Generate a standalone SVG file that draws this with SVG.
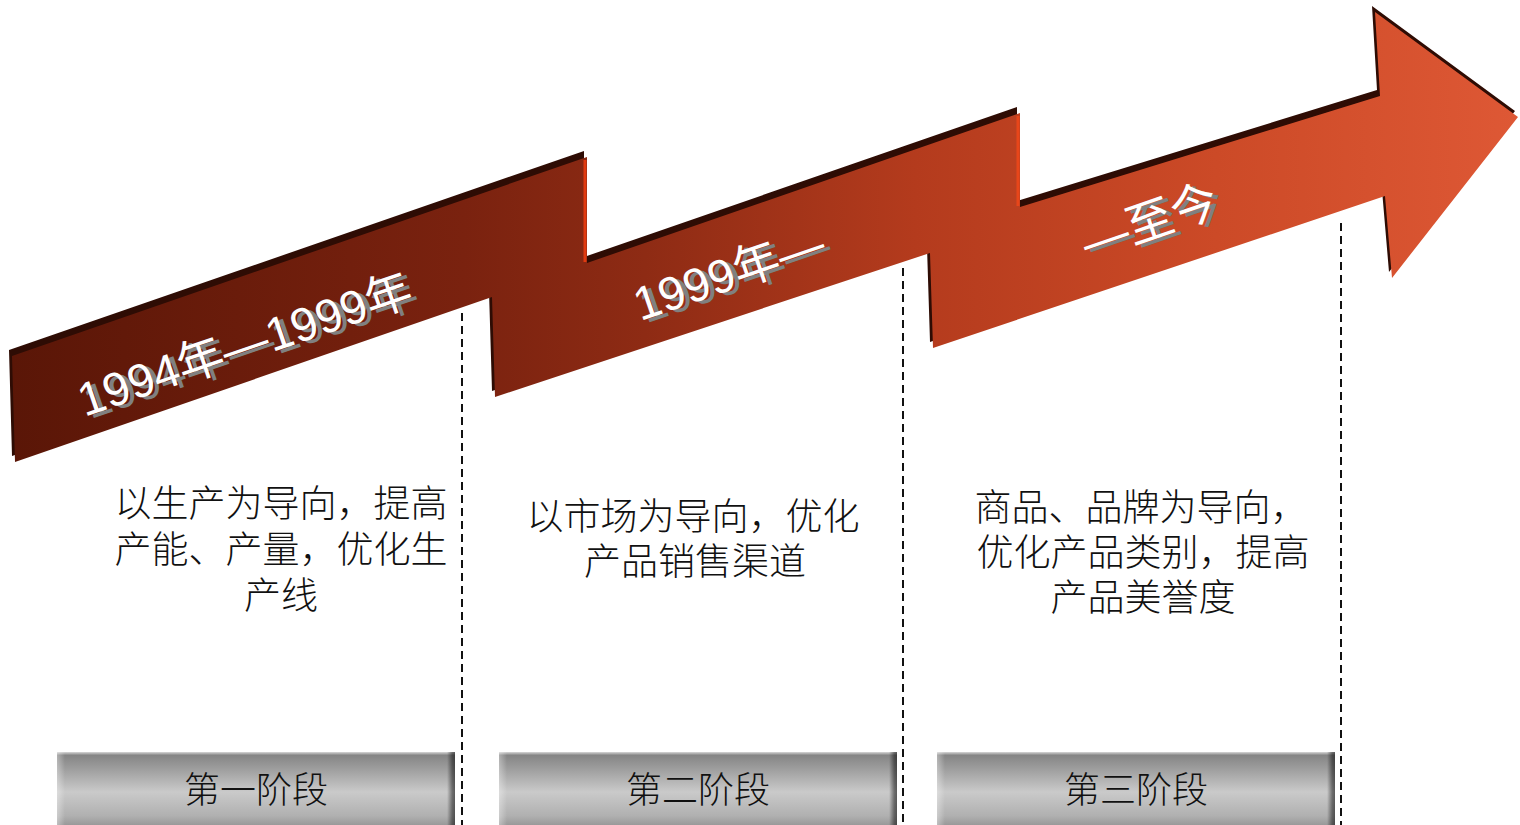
<svg xmlns="http://www.w3.org/2000/svg" width="1520" height="825" viewBox="0 0 1520 825">
  <defs>
    <linearGradient id="arrowFill" gradientUnits="userSpaceOnUse" x1="12" y1="0" x2="1518" y2="0">
      <stop offset="0" stop-color="#5a1607"/>
      <stop offset="0.3" stop-color="#7a220f"/>
      <stop offset="0.42" stop-color="#8e2b14"/>
      <stop offset="0.6" stop-color="#b43b1d"/>
      <stop offset="0.8" stop-color="#cc4a27"/>
      <stop offset="1" stop-color="#de5835"/>
    </linearGradient>
    <linearGradient id="barV" x1="0" y1="0" x2="0" y2="1">
      <stop offset="0" stop-color="#d8d8d8"/>
      <stop offset="0.04" stop-color="#858585"/>
      <stop offset="0.2" stop-color="#9c9c9c"/>
      <stop offset="0.5" stop-color="#cacaca"/>
      <stop offset="0.8" stop-color="#b0b0b0"/>
      <stop offset="1" stop-color="#888888"/>
    </linearGradient>
    <linearGradient id="barH" x1="0" y1="0" x2="1" y2="0">
      <stop offset="0" stop-color="#ffffff" stop-opacity="0.35"/>
      <stop offset="0.02" stop-color="#ffffff" stop-opacity="0"/>
      <stop offset="0.98" stop-color="#000000" stop-opacity="0"/>
      <stop offset="0.993" stop-color="#000000" stop-opacity="0.45"/>
      <stop offset="1" stop-color="#000000" stop-opacity="0.55"/>
    </linearGradient>
    <style>
      .sep { fill: none; stroke: #111111; stroke-width: 2; stroke-dasharray: 8 5; }
      .yr { font-family: "Liberation Sans", "Noto Sans CJK SC", sans-serif; font-size: 47px; text-anchor: middle; }
      .yr-shadow { fill: #808080; }
      .yr-main { fill: #ffffff; }
      .desc { font-family: "Noto Sans CJK SC", "Liberation Serif", serif; font-size: 37px; fill: #111111; text-anchor: middle; font-weight: 300; }
      .bar-rect { fill: url(#barV); }
      .bar-bevel { fill: url(#barH); }
      .bar-text { font-family: "Noto Sans CJK SC", "Liberation Serif", serif; font-size: 36px; fill: #111111; text-anchor: middle; font-weight: 300; }
    </style>
  </defs>
  <rect width="1520" height="825" fill="#ffffff"/>

  <!-- Big zigzag arrow -->
  <g id="arrow">
    <polygon fill="#2e0c04" transform="translate(-3,-6)" points="12,356 587,157 587,263 1020,113 1020,207 1380,96 1375,12 1518,117 1392,278 1385,196 933,348 930,253 495,397 492,297 15,462"/>
    <polygon fill="url(#arrowFill)" points="12,356 587,157 587,263 1020,113 1020,207 1380,96 1375,12 1518,117 1392,278 1385,196 933,348 930,253 495,397 492,297 15,462"/>
    <line x1="585" y1="160" x2="585" y2="262" stroke="#e03a10" stroke-width="3"/>
    <line x1="1018" y1="116" x2="1018" y2="206" stroke="#e8461a" stroke-width="3"/>
  </g>

  <!-- Year labels on the arrow -->
  <g id="label-1994-1999" transform="translate(250,360) rotate(-19)">
    <text class="yr yr-shadow" x="5" y="4">1994年—1999年</text>
    <text class="yr yr-main" x="0" y="0">1994年—1999年</text>
  </g>
  <g id="label-1999" transform="translate(734,289) rotate(-19)">
    <text class="yr yr-shadow" x="5" y="4">1999年—</text>
    <text class="yr yr-main" x="0" y="0">1999年—</text>
  </g>
  <g id="label-now" transform="translate(1155,237) rotate(-19)">
    <text class="yr yr-shadow" x="5" y="4">—至今</text>
    <text class="yr yr-main" x="0" y="0">—至今</text>
  </g>

  <!-- Dashed separators -->
  <g id="connectors">
    <line class="sep" x1="462" y1="313" x2="462" y2="825"/>
    <line class="sep" x1="903" y1="268" x2="903" y2="825"/>
    <line class="sep" x1="1341" y1="223" x2="1341" y2="825"/>
  </g>

  <!-- Descriptions -->
  <g id="desc-1">
    <text class="desc" x="281" y="517">以生产为导向，提高</text>
    <text class="desc" x="281" y="563">产能、产量，优化生</text>
    <text class="desc" x="281" y="609">产线</text>
  </g>
  <g id="desc-2">
    <text class="desc" x="693" y="530">以市场为导向，优化</text>
    <text class="desc" x="695" y="575">产品销售渠道</text>
  </g>
  <g id="desc-3">
    <text class="desc" x="1141" y="521">商品、品牌为导向，</text>
    <text class="desc" x="1143" y="566">优化产品类别，提高</text>
    <text class="desc" x="1143" y="611">产品美誉度</text>
  </g>

  <!-- Stage bars -->
  <g id="stage-1">
    <rect class="bar-rect" x="57" y="752" width="398" height="80"/>
    <rect class="bar-bevel" x="57" y="752" width="398" height="80"/>
    <text class="bar-text" x="256" y="803">第一阶段</text>
  </g>
  <g id="stage-2">
    <rect class="bar-rect" x="499" y="752" width="398" height="80"/>
    <rect class="bar-bevel" x="499" y="752" width="398" height="80"/>
    <text class="bar-text" x="698" y="803">第二阶段</text>
  </g>
  <g id="stage-3">
    <rect class="bar-rect" x="937" y="752" width="398" height="80"/>
    <rect class="bar-bevel" x="937" y="752" width="398" height="80"/>
    <text class="bar-text" x="1136" y="803">第三阶段</text>
  </g>
</svg>
